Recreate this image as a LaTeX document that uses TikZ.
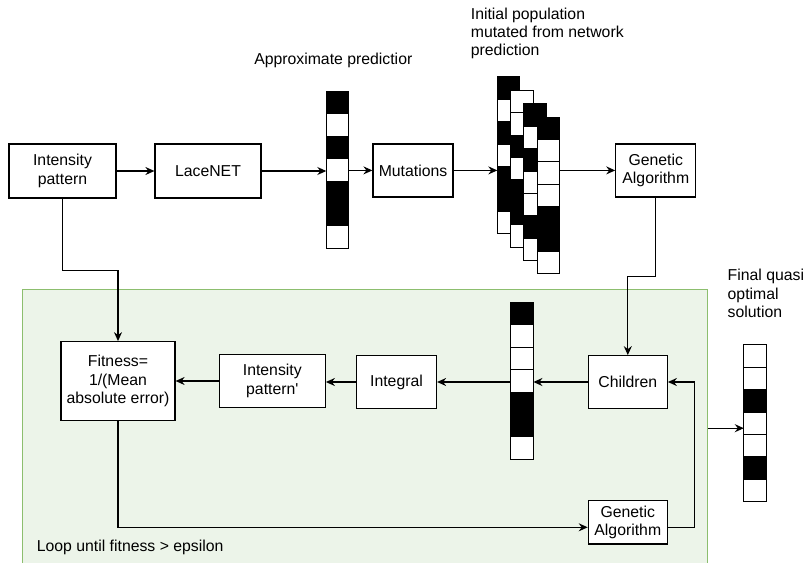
\documentclass[tikz,border=0pt]{standalone}
\usepackage{fontspec}
\setmainfont{Liberation Sans}
\usetikzlibrary{arrows.meta}

\definecolor{loopfill}{RGB}{236,244,233}
\definecolor{loopline}{RGB}{140,190,110}

\begin{document}
\begin{tikzpicture}[x=1pt, y=-1pt,
            font=\fontsize{15.8}{18.3}\selectfont,
            block/.style={draw=black, line width=1.2pt, fill=white, align=center, inner sep=0pt},
            strip/.style={minimum width=22.5pt, minimum height=156.8pt, inner sep=0pt},
            cell/.style={draw=black, line width=1pt, fill=white},
            dark/.style={cell, fill=black},
            arr/.style={line width=1.2pt, -{Stealth[length=9pt, width=8pt, inset=3pt]}}]
            \useasboundingbox (0,0) rectangle (805,562);

            % loop region
            \node[draw=loopline, fill=loopfill, line width=1.5pt, minimum width=685pt, minimum height=277.7pt, inner sep=0pt] (loop) at (365,428.2) {};
            \node[anchor=base west] (looptext) at (33.3,551.7) {Loop until fitness > epsilon};

            % boxes
            \node[block, minimum width=107pt, minimum height=54pt] (ip) at (62.5,171) {Intensity\\pattern};
            \node[block, minimum width=106pt, minimum height=54pt] (lace) at (208,171) {LaceNET};
            \node[block, minimum width=80pt, minimum height=53pt] (mut) at (413,170.4) {Mutations};
            \node[block, minimum width=80pt, minimum height=53pt] (ga1) at (655.8,170.4) {Genetic\\Algorithm};
            \node[block, minimum width=79pt, minimum height=52.6pt] (children) at (627.8,382) {Children};
            \node[block, minimum width=80pt, minimum height=52.6pt] (integral) at (396.5,382) {Integral};
            \node[block, minimum width=106pt, minimum height=53.4pt] (ipp) at (272.3,381) {Intensity\\pattern\textquotesingle};
            \node[block, minimum width=114pt, minimum height=79pt] (fit) at (118,381.2) {Fitness=\\1/(Mean\\absolute error)};
            \node[block, minimum width=79pt, minimum height=43.3pt] (ga2) at (627.8,522.3) {Genetic\\Algorithm};

            % labels (base = last line)
            \node[anchor=base] (predtext) at (333.3,64.3) {Approximate predictior};
            \node[anchor=base west, align=left, inner sep=0pt] (poptext) at (470.7,55.9) {Initial population\\mutated from network\\prediction};
            \node[anchor=base west, align=left, inner sep=0pt] (fintext) at (727.5,317.3) {Final quasi\\optimal\\solution};

            % vectors
            \node[strip] (pred) at (337.75,170.1) {};
            \node[strip] (popA) at (508.75,155.4) {};
            \node[strip] (popB) at (522.25,168.9) {};
            \node[strip] (popC) at (535.25,182.4) {};
            \node[strip] (popD) at (548.75,195.7) {};
            \node[strip] (mid) at (521.95,381.1) {};
            \node[strip] (fin) at (755.25,423.4) {};

            \begin{scope}[shift={(pred.north west)}]
            \draw[dark] (0,0) rectangle (22.5,22.4);
            \draw[cell] (0,22.4) rectangle (22.5,44.8);
            \draw[dark] (0,44.8) rectangle (22.5,67.2);
            \draw[cell] (0,67.2) rectangle (22.5,89.6);
            \draw[dark] (0,89.6) rectangle (22.5,112);
            \draw[dark] (0,112) rectangle (22.5,134.4);
            \draw[cell] (0,134.4) rectangle (22.5,156.8);
            \end{scope}

            \begin{scope}[shift={(popA.north west)}]
            \draw[dark] (0,0) rectangle (22.5,22.4);
            \draw[cell] (0,22.4) rectangle (22.5,44.8);
            \draw[dark] (0,44.8) rectangle (22.5,67.2);
            \draw[cell] (0,67.2) rectangle (22.5,89.6);
            \draw[dark] (0,89.6) rectangle (22.5,112);
            \draw[dark] (0,112) rectangle (22.5,134.4);
            \draw[cell] (0,134.4) rectangle (22.5,156.8);
            \end{scope}

            \begin{scope}[shift={(popB.north west)}]
            \draw[cell] (0,0) rectangle (22.5,22.4);
            \draw[cell] (0,22.4) rectangle (22.5,44.8);
            \draw[dark] (0,44.8) rectangle (22.5,67.2);
            \draw[cell] (0,67.2) rectangle (22.5,89.6);
            \draw[dark] (0,89.6) rectangle (22.5,112);
            \draw[dark] (0,112) rectangle (22.5,134.4);
            \draw[cell] (0,134.4) rectangle (22.5,156.8);
            \end{scope}

            \begin{scope}[shift={(popC.north west)}]
            \draw[dark] (0,0) rectangle (22.5,22.4);
            \draw[cell] (0,22.4) rectangle (22.5,44.8);
            \draw[dark] (0,44.8) rectangle (22.5,67.2);
            \draw[cell] (0,67.2) rectangle (22.5,89.6);
            \draw[cell] (0,89.6) rectangle (22.5,112);
            \draw[dark] (0,112) rectangle (22.5,134.4);
            \draw[cell] (0,134.4) rectangle (22.5,156.8);
            \end{scope}

            \begin{scope}[shift={(popD.north west)}]
            \draw[dark] (0,0) rectangle (22.5,22.4);
            \draw[cell] (0,22.4) rectangle (22.5,44.8);
            \draw[cell] (0,44.8) rectangle (22.5,67.2);
            \draw[cell] (0,67.2) rectangle (22.5,89.6);
            \draw[dark] (0,89.6) rectangle (22.5,112);
            \draw[dark] (0,112) rectangle (22.5,134.4);
            \draw[cell] (0,134.4) rectangle (22.5,156.8);
            \end{scope}

            \begin{scope}[shift={(mid.north west)}]
            \draw[dark] (0,0) rectangle (22.5,22.4);
            \draw[cell] (0,22.4) rectangle (22.5,44.8);
            \draw[cell] (0,44.8) rectangle (22.5,67.2);
            \draw[cell] (0,67.2) rectangle (22.5,89.6);
            \draw[dark] (0,89.6) rectangle (22.5,112);
            \draw[dark] (0,112) rectangle (22.5,134.4);
            \draw[cell] (0,134.4) rectangle (22.5,156.8);
            \end{scope}

            \begin{scope}[shift={(fin.north west)}]
            \draw[cell] (0,0) rectangle (22.5,22.4);
            \draw[cell] (0,22.4) rectangle (22.5,44.8);
            \draw[dark] (0,44.8) rectangle (22.5,67.2);
            \draw[cell] (0,67.2) rectangle (22.5,89.6);
            \draw[cell] (0,89.6) rectangle (22.5,112);
            \draw[dark] (0,112) rectangle (22.5,134.4);
            \draw[cell] (0,134.4) rectangle (22.5,156.8);
            \end{scope}

            % connectors
            \draw[arr] (ip.east) -- (lace.west);
            \draw[arr] (lace.east) -- (lace.east -| pred.west);
            \draw[arr] (pred.east |- mut.west) -- (mut.west);
            \draw[arr] (mut.east) -- (mut.east -| popA.west);
            \draw[arr] (popD.east |- ga1.west) -- (ga1.west);
            \draw[arr] (ga1.south) -- ++(0,79.3) -| (children.north);
            \draw[arr] (children.west) -- (children.west -| mid.east);
            \draw[arr] (mid.west |- integral.east) -- (integral.east);
            \draw[arr] (integral.west) -- (integral.west -| ipp.east);
            \draw[arr] (ipp.west) -- (ipp.west -| fit.east);
            \draw[arr] (ip.south) -- ++(0,72) -| (fit.north);
            \draw[arr] (fit.south) |- ([yshift=-5pt]ga2.west);
            \draw[arr] ([yshift=-5pt]ga2.east) -- ++(26.7,0) |- (children.east);
            \draw[arr] (loop.east) -- (loop.east -| fin.west);

        \end{tikzpicture}
\end{document}
